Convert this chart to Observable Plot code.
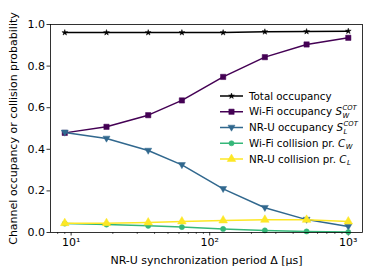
<!DOCTYPE html>
<html>
<head>
<meta charset="utf-8">
<script src="https://cdn.jsdelivr.net/npm/d3@7"></script>
<script src="https://cdn.jsdelivr.net/npm/@observablehq/plot@0.6"></script>
<style>
html, body { margin: 0; padding: 0; background: white; }
#chart { width: 374px; height: 280px; }
</style>
</head>
<body>
<div id="chart"></div>
<script>
const periods = [9, 18, 36, 63, 125, 250, 500, 1000];
const totalOcc = [0.961, 0.961, 0.961, 0.961, 0.961, 0.965, 0.966, 0.968];
const wifiOcc = [0.479, 0.508, 0.564, 0.635, 0.748, 0.843, 0.904, 0.936];
const nruOcc = [0.481, 0.452, 0.394, 0.325, 0.210, 0.119, 0.062, 0.029];
const wifiCol = [0.043, 0.038, 0.032, 0.026, 0.017, 0.010, 0.005, 0.002];
const nruCol = [0.045, 0.045, 0.048, 0.053, 0.058, 0.061, 0.061, 0.053];
const xTicks = [10, 100, 1000];
const xMinorTicks = [8, 9, 20, 30, 40, 50, 60, 70, 80, 90, 200, 300, 400, 500, 600, 700, 800, 900];
const yTicks = [0, 0.2, 0.4, 0.6, 0.8, 1.0];

const triDown = {
  draw(context, size) {
    const s = Math.sqrt(size / 1.3);
    context.moveTo(-s * 0.75, -s * 0.5);
    context.lineTo(s * 0.75, -s * 0.5);
    context.lineTo(0, s * 0.8);
    context.closePath();
  }
};

const series = [
  {name: "total", values: totalOcc, color: "#000000", symbol: "star", r: 1.8},
  {name: "wifiOcc", values: wifiOcc, color: "#440154", symbol: "square", r: 3.0},
  {name: "nruOcc", values: nruOcc, color: "#31688e", symbol: triDown, r: 3.0},
  {name: "wifiCol", values: wifiCol, color: "#35b779", symbol: "circle", r: 2.6},
  {name: "nruCol", values: nruCol, color: "#fde725", symbol: "triangle", r: 3.2}
];

const supMap = {"0":"⁰","1":"¹","2":"²","3":"³","4":"⁴","5":"⁵","6":"⁶","7":"⁷","8":"⁸","9":"⁹"};
const fmtPow = d => "10" + String(Math.round(Math.log10(d))).split("").map(c => supMap[c]).join("");

const seriesMarks = series.flatMap(s => {
  const data = periods.map((p, i) => ({p, v: s.values[i]}));
  return [
    Plot.line(data, {x: "p", y: "v", stroke: s.color, strokeWidth: 1.5}),
    Plot.dot(data, {x: "p", y: "v", fill: s.color, stroke: s.color, strokeWidth: 0.5, symbol: s.symbol, r: s.r})
  ];
});

const chart = Plot.plot({
  width: 374,
  height: 280,
  marginLeft: 50,
  marginRight: 12,
  marginTop: 24,
  marginBottom: 48,
  style: {fontFamily: "DejaVu Sans", fontSize: "11px", color: "black", background: "white", overflow: "visible"},
  x: {type: "log", domain: [7.1, 1266]},
  y: {domain: [0, 1]},
  marks: [
    Plot.axisX(xMinorTicks, {tickSize: 2, strokeWidth: 0.6, text: null, label: null}),
    Plot.axisX({ticks: xTicks, tickFormat: fmtPow, tickSize: 3.5, tickPadding: 2, strokeWidth: 0.8, fontSize: 11,
      label: "NR-U synchronization period Δ [µs]", labelAnchor: "center", labelArrow: "none", labelOffset: 31}),
    Plot.axisY({ticks: yTicks, tickFormat: d3.format(".1f"), tickSize: 3.5, tickPadding: 2, strokeWidth: 0.8, fontSize: 11,
      label: "Channel occupancy or collision probability", labelAnchor: "center", labelArrow: "none", labelOffset: 41}),
    ...seriesMarks,
    Plot.frame({stroke: "black", strokeWidth: 0.8})
  ]
});

document.getElementById("chart").appendChild(chart);

// Legend (matplotlib-style, inside the axes, no frame)
const legendItems = [
  {parts: [{t: "Total occupancy"}]},
  {parts: [{t: "Wi-Fi occupancy "}, {t: "S", it: true, sup: "COT", sub: "W"}]},
  {parts: [{t: "NR-U occupancy "}, {t: "S", it: true, sup: "COT", sub: "L"}]},
  {parts: [{t: "Wi-Fi collision pr. "}, {t: "C", it: true, sub: "W"}]},
  {parts: [{t: "NR-U collision pr. "}, {t: "C", it: true, sub: "L"}]}
];
const svg = d3.select(chart);
const lg = svg.append("g").attr("font-family", "DejaVu Sans").attr("font-size", 10.3)
  .attr("text-anchor", "start").attr("fill", "black");
const lx = 220, ly0 = 96, lstep = 15.75;
legendItems.forEach((item, i) => {
  const s = series[i];
  const y = ly0 + i * lstep;
  lg.append("line").attr("x1", lx).attr("x2", lx + 23).attr("y1", y).attr("y2", y)
    .attr("stroke", s.color).attr("stroke-width", 1.5);
  const sym = typeof s.symbol === "string" ? {
    star: d3.symbolStar, square: d3.symbolSquare, circle: d3.symbolCircle, triangle: d3.symbolTriangle
  }[s.symbol] : s.symbol;
  lg.append("path").attr("transform", `translate(${lx + 11.5},${y})`)
    .attr("d", d3.symbol(sym, s.r * s.r * Math.PI)())
    .attr("fill", s.color).attr("stroke", s.color).attr("stroke-width", 0.5);
  let x = lx + 29;
  item.parts.forEach(p => {
    const t = lg.append("text").attr("x", x).attr("y", y + 3.6).text(p.t);
    if (p.it) t.attr("font-style", "italic");
    x += t.node().getComputedTextLength();
    let w = 0;
    if (p.sup) {
      const ts = lg.append("text").attr("x", x + 0.5).attr("y", y - 1.4).attr("font-size", 6.8)
        .attr("font-style", "italic").text(p.sup);
      w = Math.max(w, ts.node().getComputedTextLength());
    }
    if (p.sub) {
      const tb = lg.append("text").attr("x", x + 0.5).attr("y", y + (p.sup ? 6.6 : 5.6)).attr("font-size", 6.8)
        .attr("font-style", "italic").text(p.sub);
      w = Math.max(w, tb.node().getComputedTextLength());
    }
    x += w;
  });
});
</script>
</body>
</html>
